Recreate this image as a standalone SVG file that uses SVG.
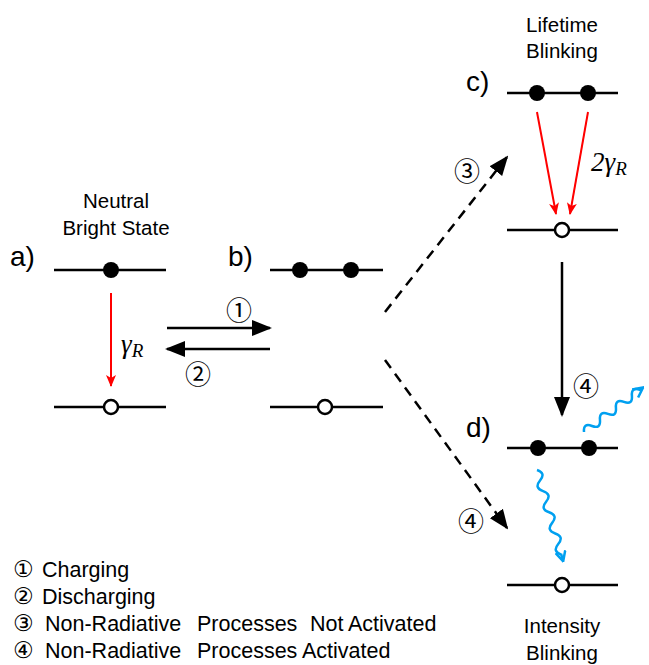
<svg xmlns="http://www.w3.org/2000/svg" width="649" height="665" viewBox="0 0 649 665">
<style>
text{font-family:"Liberation Sans",Arial,sans-serif;fill:#000}
.lbl{font-size:28px}
.cap{font-size:20.5px;text-anchor:middle}
.num{font-size:26px;font-family:"Noto Sans CJK JP","DejaVu Sans",sans-serif;text-anchor:middle;dominant-baseline:central}
.lnum{font-size:23px;font-family:"DejaVu Sans",sans-serif}
.leg{font-size:21.5px}
.math{font-family:"Liberation Serif",serif;font-style:italic}
.lvl{stroke:#000;stroke-width:2.5;fill:none}
.full{fill:#000}
.hole{fill:#fff;stroke:#000;stroke-width:2.5}
.red{stroke:#f00;stroke-width:2;fill:none}
.blk{stroke:#000;stroke-width:2.5;fill:none}
.dash{stroke:#000;stroke-width:2.5;fill:none;stroke-dasharray:10,7}
.wave{stroke:#00a0f0;stroke-width:2.5;fill:none}
</style>
<defs>
<marker id="ah" markerUnits="userSpaceOnUse" markerWidth="20" markerHeight="20" viewBox="0 0 20 20" refX="18" refY="10" orient="auto"><path d="M0,2 L20,10 L0,18 Z" fill="#000"/></marker>
<marker id="ahr" markerUnits="userSpaceOnUse" markerWidth="12" markerHeight="12" viewBox="0 0 12 12" refX="11" refY="6" orient="auto"><path d="M0,1 L12,6 L0,11 L3,6 Z" fill="#f00"/></marker>
<marker id="ahb" markerUnits="userSpaceOnUse" markerWidth="12" markerHeight="12" viewBox="0 0 12 12" refX="10" refY="6" orient="auto"><path d="M1,1 L11,6 L1,11" fill="none" stroke="#00a0f0" stroke-width="2.5"/></marker>
</defs>

<g id="nodeA">
<text class="cap" x="116" y="208">Neutral</text>
<text class="cap" x="116" y="235">Bright State</text>
<text class="lbl" x="10" y="266">a)</text>
<line class="lvl" x1="54" y1="270" x2="166" y2="270"/>
<circle class="full" cx="111" cy="270" r="8"/>
<line class="lvl" x1="54" y1="407" x2="166" y2="407"/>
<circle class="hole" cx="111" cy="407" r="7"/>
<text class="math" x="121" y="353" font-size="27">γ<tspan font-size="19" dy="4">R</tspan></text>
</g>

<g id="nodeB">
<text class="lbl" x="228" y="266">b)</text>
<line class="lvl" x1="270" y1="270" x2="383" y2="270"/>
<circle class="full" cx="300" cy="270" r="8"/>
<circle class="full" cx="351" cy="270" r="8"/>
<line class="lvl" x1="270" y1="407" x2="383" y2="407"/>
<circle class="hole" cx="325" cy="407" r="7"/>
</g>

<g id="nodeC">
<text class="cap" x="562" y="32">Lifetime</text>
<text class="cap" x="562" y="58">Blinking</text>
<text class="lbl" x="466" y="91">c)</text>
<line class="lvl" x1="507" y1="93" x2="618" y2="93"/>
<circle class="full" cx="537" cy="93" r="8"/>
<circle class="full" cx="588" cy="93" r="8"/>
<line class="lvl" x1="507" y1="230" x2="618" y2="230"/>
<circle class="hole" cx="562" cy="230" r="7"/>
<text class="math" x="591" y="171" font-size="27">2γ<tspan font-size="19" dy="4">R</tspan></text>
</g>

<g id="nodeD">
<text class="lbl" x="466" y="437">d)</text>
<line class="lvl" x1="507" y1="448" x2="618" y2="448"/>
<circle class="full" cx="538" cy="448" r="8"/>
<circle class="full" cx="589" cy="448" r="8"/>
<line class="lvl" x1="507" y1="585" x2="618" y2="585"/>
<circle class="hole" cx="562" cy="585" r="7"/>
<text class="cap" x="562" y="633">Intensity</text>
<text class="cap" x="562" y="660">Blinking</text>
</g>

<g id="connectors">
<line class="red" x1="111" y1="293" x2="111" y2="386" marker-end="url(#ahr)"/>
<line class="red" x1="537" y1="112" x2="556" y2="214" marker-end="url(#ahr)"/>
<line class="red" x1="588" y1="112" x2="570" y2="214" marker-end="url(#ahr)"/>
<line class="blk" x1="167" y1="328" x2="270" y2="328" marker-end="url(#ah)"/>
<line class="blk" x1="270" y1="349" x2="167" y2="349" marker-end="url(#ah)"/>
<line class="dash" x1="385" y1="312" x2="507" y2="157" marker-end="url(#ah)"/>
<line class="dash" x1="385" y1="360" x2="507" y2="528" marker-end="url(#ah)"/>
<line class="blk" x1="562" y1="262" x2="562" y2="415" marker-end="url(#ah)"/>
<path class="wave" transform="translate(537,470) rotate(74)" d="M0,0 q5.5,-8 11,0 t11,0 t11,0 t11,0 t11,0 t11,0 t11,0 t11,0 l6,0" marker-end="url(#ahb)"/>
<path class="wave" transform="translate(584,432) rotate(-37)" d="M0,0 q5,-8 10,0 t10,0 t10,0 t10,0 t10,0 t10,0 t10,0 l3,0" marker-end="url(#ahb)"/>
<text class="num" x="239" y="308">①</text>
<text class="num" x="198" y="372">②</text>
<text class="num" x="467" y="169">③</text>
<text class="num" x="471" y="519">④</text>
<text class="num" x="586" y="384">④</text>
</g>

<g id="legend">
<text class="leg"><tspan class="lnum" x="13" y="577">①</tspan><tspan x="42" y="577">Charging</tspan><tspan class="lnum" x="13" y="604">②</tspan><tspan x="42" y="604">Discharging</tspan><tspan class="lnum" x="13" y="631">③</tspan><tspan x="45" y="631">Non-Radiative</tspan><tspan x="197" y="631">Processes</tspan><tspan x="310" y="631">Not</tspan><tspan x="348" y="631">Activated</tspan><tspan class="lnum" x="13" y="658">④</tspan><tspan x="45" y="658">Non-Radiative</tspan><tspan x="197" y="658">Processes</tspan><tspan x="302" y="658">Activated</tspan></text>
</g>
</svg>
